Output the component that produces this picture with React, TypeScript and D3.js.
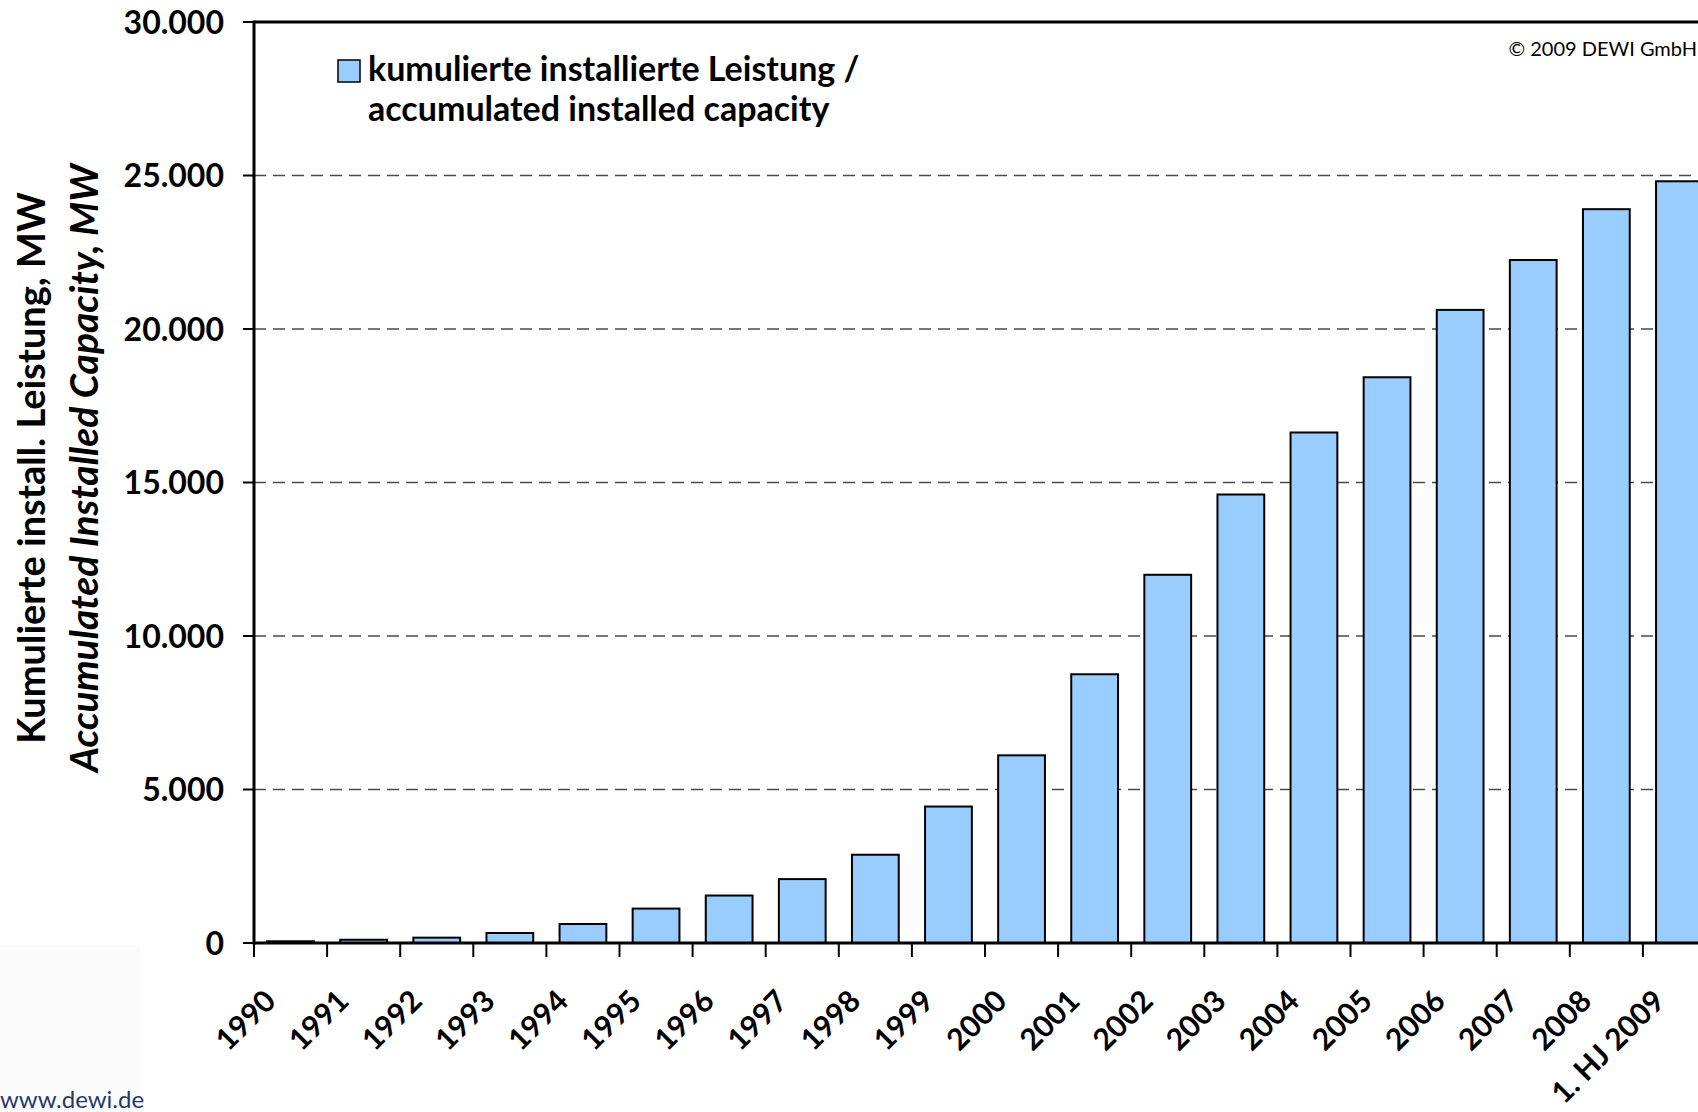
import React, { useEffect, useRef } from 'react';
import * as d3 from 'd3';

const years = [
  '1990', '1991', '1992', '1993', '1994', '1995', '1996', '1997', '1998', '1999',
  '2000', '2001', '2002', '2003', '2004', '2005', '2006', '2007', '2008', '1. HJ 2009',
];
const capacityMW = [
  56, 106, 174, 326, 618, 1121, 1546, 2081, 2875, 4445,
  6113, 8754, 11994, 14609, 16629, 18428, 20622, 22247, 23903, 24812,
];
const yTicks = [0, 5000, 10000, 15000, 20000, 25000, 30000];
const legendLines = ['kumulierte installierte Leistung /', 'accumulated installed capacity'];
const yTitleLines = ['Kumulierte install. Leistung, MW', 'Accumulated Installed Capacity, MW'];
const copyright = '© 2009 DEWI GmbH';
const website = 'www.dewi.de';

const W = 1698;
const H = 1112;

const App: React.FC = () => {
  const svgRef = useRef<SVGSVGElement>(null);

  useEffect(() => {
    if (!svgRef.current) return;
    document.body.style.margin = '0';

    const left = 254;
    const top = 22;
    const bottom = 943;
    const step = 73.1;

    const svg = d3.select(svgRef.current);
    svg.selectAll('*').remove();

    const de = d3.formatLocale({ decimal: ',', thousands: '.', grouping: [3], currency: ['', ' €'] });
    const fmt = de.format(',d');

    const x = d3.scaleBand<string>()
      .domain(years)
      .range([left, left + step * years.length])
      .paddingInner(0.36)
      .paddingOuter(0.18);

    const y = d3.scaleLinear().domain([0, 30000]).range([bottom, top]);

    // faint logo background bottom-left
    svg.append('rect')
      .attr('x', 0).attr('y', 945).attr('width', 140).attr('height', H - 945)
      .attr('fill', '#fbfbfb');

    // gridlines
    svg.append('g')
      .selectAll('line')
      .data(yTicks.filter(t => t > 0 && t < 30000))
      .join('line')
      .attr('x1', left).attr('x2', W)
      .attr('y1', d => y(d)).attr('y2', d => y(d))
      .attr('stroke', '#4a4a4a')
      .attr('stroke-width', 1.3)
      .attr('stroke-dasharray', '12 7');

    // bars
    svg.append('g')
      .selectAll('rect')
      .data(capacityMW)
      .join('rect')
      .attr('x', (_, i) => x(years[i])!)
      .attr('y', d => y(d))
      .attr('width', x.bandwidth())
      .attr('height', d => bottom - y(d))
      .attr('fill', '#99CCFF')
      .attr('stroke', '#000')
      .attr('stroke-width', 2);

    // plot frame: top + left + bottom
    svg.append('line')
      .attr('x1', left).attr('x2', W).attr('y1', top).attr('y2', top)
      .attr('stroke', '#000').attr('stroke-width', 3);
    svg.append('line')
      .attr('x1', left).attr('x2', left).attr('y1', top - 1.5).attr('y2', bottom + 1.5)
      .attr('stroke', '#000').attr('stroke-width', 3);
    svg.append('line')
      .attr('x1', left).attr('x2', W).attr('y1', bottom).attr('y2', bottom)
      .attr('stroke', '#000').attr('stroke-width', 3);

    // y ticks + labels
    const yAxis = svg.append('g');
    yAxis.selectAll('line')
      .data(yTicks)
      .join('line')
      .attr('x1', left - 11).attr('x2', left)
      .attr('y1', d => y(d)).attr('y2', d => y(d))
      .attr('stroke', '#000').attr('stroke-width', 2);
    yAxis.selectAll('text')
      .data(yTicks)
      .join('text')
      .attr('x', 224)
      .attr('y', d => y(d))
      .attr('dy', '0.36em')
      .attr('text-anchor', 'end')
      .style('font-family', 'Lato, sans-serif')
      .style('font-weight', 700)
      .style('font-size', '32px')
      .text(d => fmt(d));

    // x ticks at band boundaries
    const boundaries = d3.range(years.length + 1).map(i => left + i * x.step());
    svg.append('g')
      .selectAll('line')
      .data(boundaries)
      .join('line')
      .attr('x1', d => d).attr('x2', d => d)
      .attr('y1', bottom).attr('y2', bottom + 14)
      .attr('stroke', '#000').attr('stroke-width', 2);

    svg.append('g')
      .selectAll('text')
      .data(years)
      .join('text')
      .attr('transform', d => `translate(${x(d)! + x.bandwidth() / 2 - 13}, ${1003}) rotate(-45)`)
      .attr('text-anchor', 'end')
      .style('font-family', 'Lato, sans-serif')
      .style('font-weight', 700)
      .style('font-size', '30px')
      .text(d => d);

    // y axis title
    const titleY = 468;
    svg.append('text')
      .attr('transform', `translate(45, ${titleY}) rotate(-90)`)
      .attr('text-anchor', 'middle')
      .style('font-family', 'Lato, sans-serif')
      .style('font-weight', 700)
      .style('font-size', '38px')
      .text(yTitleLines[0]);
    svg.append('text')
      .attr('transform', `translate(98, ${titleY}) rotate(-90)`)
      .attr('text-anchor', 'middle')
      .style('font-family', 'Lato, sans-serif')
      .style('font-weight', 700)
      .style('font-style', 'italic')
      .style('font-size', '39px')
      .text(yTitleLines[1]);

    // legend
    svg.append('rect')
      .attr('x', 338).attr('y', 60).attr('width', 22).attr('height', 22)
      .attr('fill', '#99CCFF').attr('stroke', '#000').attr('stroke-width', 1.5);
    svg.append('g')
      .selectAll('text')
      .data(legendLines)
      .join('text')
      .attr('x', 368)
      .attr('y', (_, i) => 81 + i * 40)
      .style('font-family', 'Lato, sans-serif')
      .style('font-weight', 700)
      .style('font-size', '34px')
      .text(d => d);

    // copyright
    svg.append('text')
      .attr('x', 1697).attr('y', 56)
      .attr('text-anchor', 'end')
      .style('font-family', 'Lato, sans-serif')
      .style('font-size', '20px')
      .text(copyright);

    // website, at the bottom edge
    svg.append('text')
      .attr('x', 0).attr('y', 1108)
      .attr('fill', '#1f3b6e')
      .style('font-family', 'Lato, sans-serif')
      .style('font-size', '24px')
      .text(website);
  }, []);

  return (
    <div style={{ position: 'absolute', left: 0, top: 0, width: W, height: H, background: '#fff' }}>
      <svg ref={svgRef} width={W} height={H} style={{ display: 'block' }}></svg>
    </div>
  );
};

export default App;
